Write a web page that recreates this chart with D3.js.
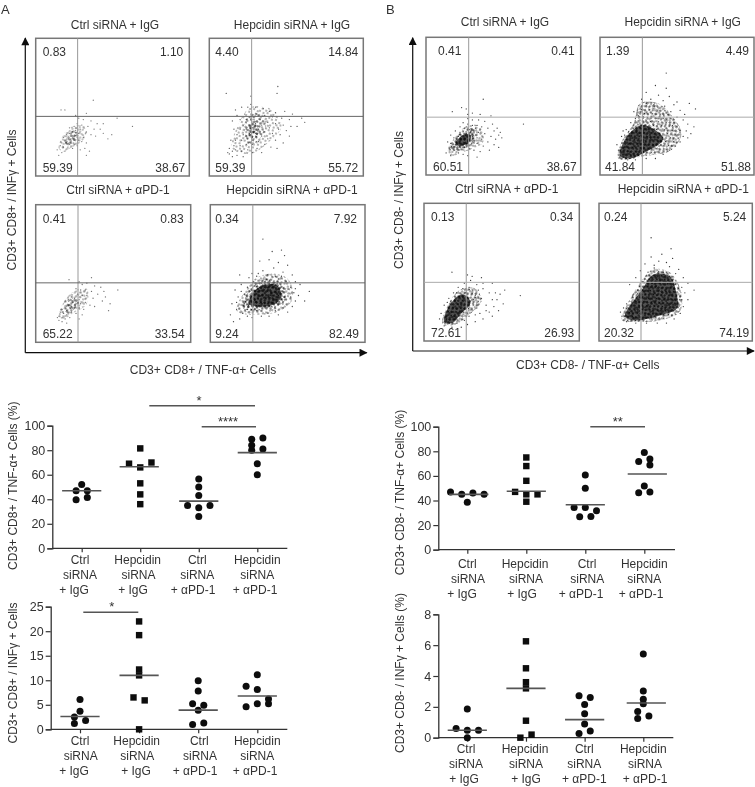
<!DOCTYPE html>
<html>
<head>
<meta charset="utf-8">
<script src="https://cdn.jsdelivr.net/npm/d3@7"></script>
<style>
body { margin: 0; background: #fff; }
svg { display: block; }
text { font-family: "Liberation Sans", Arial, sans-serif; font-size: 12px; fill: #333; }
</style>
</head>
<body>
<svg width="755" height="787"></svg>
<script>
// flow panels: titles and quadrant percentages (UL, UR, LL, LR)
const flowTitles = ["Ctrl siRNA  + IgG", "Hepcidin  siRNA  + IgG", "Ctrl siRNA  + αPD-1", "Hepcidin  siRNA  + αPD-1"];
const quadA = [["0.83","1.10","59.39","38.67"],["4.40","14.84","59.39","55.72"],["0.41","0.83","65.22","33.54"],["0.34","7.92","9.24","82.49"]];
const quadB = [["0.41","0.41","60.51","38.67"],["1.39","4.49","41.84","51.88"],["0.13","0.34","72.61","26.93"],["0.24","5.24","20.32","74.19"]];

// events, [% of panel width, % of panel height from the bottom]
const a1Dots = [[37.5,55],[19,48],[16.5,48],[33,45.5],[63,36],[49.5,30],[53,42],[26,44],[28,42],[31,41],[36,40],[40,38],[44,38],[42,34],[38,34],[34,36],[30,37],[27,38],[25,36],[22,35],[29,34],[33,32],[36,30],[39,29],[44,31],[47,27],[31,28],[28,31],[26,33],[24,32],[22,31],[20,30],[23,29],[25,29],[27,28],[21,27],[19,26],[18,28],[23,26],[25,26],[28,26],[30,25],[33,24],[20,24],[22,23],[25,23],[17,24],[16,22],[18,21],[21,21],[24,20],[32,20],[35,18],[33,15],[15,15],[17,17],[14,19],[19,18],[27,22],[29,19]];
const a2Dots = [[44.5,65],[44,60],[11,60],[27,58],[27,52],[17,48],[21,50],[25,50],[30,50],[35,49],[39,47],[43,46],[49,47],[54,45],[18,44],[23,45],[27,45],[31,45],[36,44],[41,43],[47,42],[52,41],[60,42],[62,39],[15,40],[20,41],[24,41],[29,41],[33,41],[38,39],[43,38],[48,37],[53,36],[57,36],[22,37],[26,37],[30,38],[34,37],[39,35],[45,34],[50,33],[16,34],[20,34],[24,34],[28,35],[32,34],[36,32],[41,31],[46,30],[52,29],[18,30],[22,30],[26,31],[30,31],[34,29],[38,27],[43,26],[48,24],[14,26],[17,26],[21,26],[25,27],[29,27],[32,25],[36,23],[40,21],[44,20],[16,22],[20,22],[24,23],[28,23],[31,20],[13,20],[17,19],[21,18],[25,19],[28,17],[34,17],[13,16],[15,14],[18,15],[22,14],[15,18],[12,17]];
const a3Dots = [[36,47],[21.5,45.5],[53,38],[28,44],[30,42],[33,43],[38,41],[42,40],[44,37],[26,39],[29,38],[32,38],[36,37],[40,35],[45,33],[27,35],[30,34],[33,34],[37,32],[43,30],[48,28],[47,23],[28,31],[25,32],[23,33],[21,31],[19,30],[24,29],[26,28],[29,28],[32,29],[35,27],[38,26],[21,27],[23,26],[25,25],[28,25],[31,24],[19,25],[17,24],[20,23],[23,22],[26,21],[30,20],[16,22],[18,21],[20,20],[15,19],[17,18],[19,17],[22,18],[28,17],[15,16],[17,15],[14,18],[20,14]];
const a4Dots = [[34,75],[46,67],[40,66],[48,63],[38,60],[32,59],[44,58],[50,56],[27,50],[19,49],[34,52],[41,54],[47,51],[53,49],[25,47],[30,48],[55,44],[58,42],[64,37],[61,30],[16,38],[20,42],[22,35],[18,33],[14,28],[17,24],[21,21],[13,20],[15,15],[19,17],[24,19],[27,18],[33,19],[38,19],[44,20],[50,22],[53,26],[55,30],[54,36],[52,40],[28,44],[36,46],[44,46],[49,44],[22,28],[24,24],[30,23],[36,22],[42,23],[47,25],[26,30],[32,28],[38,30],[45,31],[24,40],[42,48],[31,50],[37,49],[46,48],[20,37],[17,29],[55,39],[57,34],[52,33]];
const b1Dots = [[37,55],[63,37],[23,49],[17,46],[30,45],[27,44],[35,44],[42,43],[27,41],[30,40],[34,40],[38,39],[43,37],[46,34],[48,31],[24,38],[27,37],[30,36],[33,36],[36,35],[40,34],[44,32],[47,29],[22,35],[25,34],[28,33],[31,32],[34,31],[38,30],[42,28],[45,26],[49,27],[19,32],[22,31],[26,30],[30,28],[33,27],[36,26],[40,24],[44,22],[47,20],[16,29],[18,27],[21,28],[24,26],[27,25],[30,24],[33,23],[37,21],[41,18],[14,24],[16,23],[19,22],[22,21],[25,20],[28,19],[31,18],[35,17],[15,19],[18,18],[21,16],[24,15],[13,16],[16,14],[27,14],[33,13],[26,48],[29,31],[32,34]];
const b2Dots = [[43,74],[36,65],[43,63],[58,52],[30,60],[38,58],[45,57],[27,55],[33,55],[41,54],[50,53],[62,48],[52,47],[55,44],[26,48],[22,46],[50,42],[54,40],[57,37],[61,35],[47,36],[20,38],[17,33],[16,29],[14,28],[11,22],[12,18],[13,13],[56,32],[54,28],[52,24],[49,21],[45,18],[41,15],[36,12],[30,12],[23,11],[18,11],[57,27],[59,30],[48,51],[42,50],[35,51],[30,52],[25,43],[23,41],[19,30],[15,32],[37,46],[46,46]];
const b3Dots = [[18,50],[28,48],[31,47],[37,46],[44,42],[49,34],[62,33],[52,37],[47,30],[51,27],[48,22],[44,18],[38,16],[33,14],[40,26],[44,30],[42,35],[38,38],[34,41],[30,44],[26,42],[22,39],[19,35],[16,31],[13,26],[11,20],[10,16],[13,11],[18,10],[24,10],[28,12],[36,20],[40,22],[34,24],[37,31],[33,33],[35,37],[29,39],[25,38],[27,35],[45,25],[42,21],[46,35],[38,42],[32,30],[21,35],[15,28],[29,18],[33,19],[26,15]];
const b4Dots = [[34,75],[47,67],[41,63],[48,60],[34,61],[39,58],[44,57],[30,56],[36,53],[46,54],[52,52],[27,51],[32,50],[42,50],[55,46],[24,46],[20,41],[58,42],[62,37],[54,39],[56,35],[54,30],[55,25],[53,20],[49,16],[44,13],[38,13],[31,13],[24,13],[18,14],[15,18],[14,21],[18,27],[22,32],[25,37],[28,43],[50,49],[36,55],[58,30],[16,24]];

// dense parts of the clouds as outlines, d = how many stipple layers they take
const a1Areas = [{ d: 2, p: [[15,20],[20,33],[27,37],[33,35],[31,26],[24,21],[18,18]] }, { d: 3, p: [[19,24],[23,32],[28,31],[26,25],[22,22]] }];
const a2Areas = [{ d: 1, p: [[15,20],[19,38],[27,50],[41,48],[47,36],[39,25],[27,16]] }, { d: 2, p: [[23,27],[24,41],[31,46],[37,39],[33,27],[27,23]] }, { d: 3, p: [[26,28],[27,38],[31,38],[31,29]] }];
const a3Areas = [{ d: 2, p: [[15,19],[19,31],[26,38],[33,39],[33,28],[24,21],[18,17]] }, { d: 3, p: [[19,23],[23,32],[28,30],[25,24],[21,21]] }];
const a4Areas = [{ d: 2, p: [[17,23],[23,38],[30,47],[41,50],[51,45],[53,31],[45,23],[31,20]] }, { d: 3, p: [[21,25],[27,40],[37,46],[47,41],[48,30],[37,24]] }, { d: 4, p: [[25,28],[30,39],[42,42],[46,35],[42,28],[32,26]] }];
const b1Areas = [{ d: 2, p: [[14,18],[20,29],[27,36],[35,35],[37,24],[25,17],[17,14]] }, { d: 3, p: [[15,19],[22,30],[30,34],[32,25],[22,18]] }, { d: 4, p: [[19,23],[24,29],[29,29],[28,24],[22,21]] }];
const b2Areas = [{ d: 3, p: [[12,12],[14,24],[22,38],[26,52],[38,52],[48,41],[53,30],[46,18],[30,14]] }, { d: 4, p: [[13,14],[17,27],[26,36],[34,34],[41,26],[30,17],[20,12]] }];
const b3Areas = [{ d: 3, p: [[12,12],[15,25],[23,37],[33,38],[37,29],[30,20],[20,12]] }, { d: 4, p: [[13,14],[17,27],[25,34],[30,28],[24,20],[18,13]] }];
const b4Areas = [{ d: 3, p: [[15,15],[20,30],[28,44],[35,52],[46,50],[53,38],[53,22],[40,15],[24,14]] }, { d: 4, p: [[17,18],[28,37],[35,48],[46,47],[51,32],[51,24],[38,18],[22,15]] }];

// stipple tiles for the dense parts, [x, y] inside one tile
const stippleA = [[1,2],[5,1],[9,3],[12,1],[3,5],[7,6],[11,5],[1,8],[5,9],[9,8],[13,9]];
const stippleB = [[1,1],[5,3],[8,6],[3,7],[6,10],[1,11]];
const stippleC = [[1,1],[3.5,3.5]];

// dot plots
const groupLines = [["Ctrl","siRNA","+ IgG"],["Hepcidin","siRNA","+ IgG"],["Ctrl","siRNA","+ αPD-1"],["Hepcidin","siRNA","+ αPD-1"]];
const groupShapes = ["circle","square","circle","circle"];

const aTnfValues = [[52,47,47,39.5,41.5],[81.5,69,70,66,53,44,36],[56.5,50,43,35,35,33,26],[89,90,84,80,81,69,60]];
const aTnfSlots = [[0,-1,1,-1,1],[0,-2,2,0,0,0,0],[0,0,0,-2,2,0,0],[-1,1,-1,-1,1,0,0]];
const aTnfMeans = [47,66.5,38.5,78];
const aInfValues = [[6.1,3.7,2.5,1.8,1.2],[22,19.2,12.2,11,6.5,5.9,0],[9.9,7.8,5.2,4.9,3.9,1,1.3],[11.1,8.8,8.1,6.2,4.6,5.2,5.2]];
const aInfSlots = [[0,0,-1,1,-1],[0,0,0,0,-1,1,0],[0,0,-1,1,0,-1,1],[0,-2,0,2,-2,0,2]];
const aInfMeans = [2.6,11,3.9,6.8];
const bTnfValues = [[47,45,46,45,38.5],[75,68,56,47,45,45,39],[60.7,50,34.4,34.4,31.7,26.8,27],[79,73.7,71.8,68.8,51.8,46.3,47]];
const bTnfSlots = [[-3,-1,1,3,0],[0,0,0,-2,0,2,0],[0,0,-2,0,2,-1,1],[0,1,-1,1,0,-1,1]];
const bTnfMeans = [45,47.5,36.6,61.5];
const bInfValues = [[1.86,0.6,0.48,0.48,0],[6.25,4.5,3.6,3.2,1.1,0.2,0],[2.72,2.6,2.16,1.56,0.89,0.43,0.28],[5.43,3.03,2.5,2.2,1.7,1.25,1.4]];
const bInfSlots = [[0,-2,0,2,0],[0,0,0,0,0,1,-1],[-1,1,0,0,0,1,-1],[0,0,0,0,-1,-1,1]];
const bInfMeans = [0.48,3.2,1.17,2.25];

let svg = d3.select("svg");

let defs = svg.append("defs");
defs.append("filter").attr("id", "soft").append("feGaussianBlur").attr("stdDeviation", 0.42);
let arrow = defs.append("marker").attr("id", "arrow").attr("viewBox", "0 0 10 10")
	.attr("refX", 9).attr("refY", 5).attr("markerWidth", 9).attr("markerHeight", 8)
	.attr("markerUnits", "userSpaceOnUse").attr("orient", "auto");
arrow.append("path").attr("d", "M0,0L10,5L0,10Z").attr("fill", "#111");

let addTile = (id, w, h, angle, pts, r) => {
	let tile = defs.append("pattern").attr("id", id).attr("patternUnits", "userSpaceOnUse")
		.attr("width", w).attr("height", h).attr("patternTransform", `rotate(${angle})`);
	tile.selectAll("circle").data(pts).enter().append("circle")
		.attr("cx", d => d[0]).attr("cy", d => d[1]).attr("r", r).attr("fill", "#111");
};
addTile("tileA", 14, 11, 17, stippleA, 0.75);
addTile("tileB", 9, 13, -31, stippleB, 0.75);
addTile("tileC", 5, 6, 53, stippleC, 0.85);

let root = svg.append("g").attr("filter", "url(#soft)");

let flowPanel = (box, title, quad, dots, areas, dotTone) => {
	let g = root.append("g");
	let x = d3.scaleLinear().domain([0, 100]).range([box.x0, box.x1]);
	let y = d3.scaleLinear().domain([0, 100]).range([box.y1, box.y0]);

	let line = d3.line().x(d => x(d[0])).y(d => y(d[1])).curve(d3.curveCatmullRomClosed);
	areas.forEach(a => {
		let fills = ["url(#tileA)", "url(#tileB)", "url(#tileC)", "#111"].slice(0, a.d);
		g.selectAll(null).data(fills).enter().append("path")
			.attr("d", line(a.p)).attr("fill", d => d)
			.attr("fill-opacity", d => d == "#111" ? 0.72 : dotTone);
	});

	g.append("g").selectAll("circle").data(dots).enter().append("circle")
		.attr("cx", d => x(d[0])).attr("cy", d => d3.format(".2f")(y(d[1]))).attr("r", 0.65)
		.attr("fill", "#222").attr("fill-opacity", dotTone);

	g.append("rect").attr("x", box.x0).attr("y", box.y0)
		.attr("width", box.x1 - box.x0).attr("height", box.y1 - box.y0)
		.attr("fill", "none").attr("stroke", "#777").attr("stroke-width", 1.5);
	g.append("line").attr("x1", x(box.v)).attr("x2", x(box.v)).attr("y1", box.y0).attr("y2", box.y1)
		.attr("stroke", "#999").attr("stroke-width", 1);
	g.append("line").attr("x1", box.x0).attr("x2", box.x1).attr("y1", y(box.h)).attr("y2", y(box.h))
		.attr("stroke", box.hc).attr("stroke-width", 1);

	g.append("text").attr("x", box.tx).attr("y", box.ty).attr("text-anchor", "middle").text(title);
	let top = box.y0 + 18, bottom = box.y1 - 4.5;
	g.append("text").attr("x", box.x0 + box.lx).attr("y", top).text(quad[0]);
	g.append("text").attr("x", box.x1 - box.rx).attr("y", top).attr("text-anchor", "end").text(quad[1]);
	g.append("text").attr("x", box.x0 + box.lb).attr("y", bottom).text(quad[2]);
	g.append("text").attr("x", box.x1 - box.rb).attr("y", bottom).attr("text-anchor", "end").text(quad[3]);
};

flowPanel({ x0: 35.7, x1: 189.3, y0: 38.3, y1: 176, v: 27.3, h: 43.3, hc: "#666", tx: 115, ty: 29, lx: 7, rx: 6, lb: 7, rb: 4 }, flowTitles[0], quadA[0], a1Dots, a1Areas, 0.6);
flowPanel({ x0: 209.3, x1: 363.3, y0: 38.3, y1: 176, v: 27.5, h: 43.3, hc: "#666", tx: 292, ty: 29, lx: 6, rx: 5, lb: 6, rb: 5 }, flowTitles[1], quadA[1], a2Dots, a2Areas, 0.75);
flowPanel({ x0: 35.7, x1: 190.7, y0: 204.7, y1: 342.3, v: 27.3, h: 43.2, hc: "#666", tx: 118, ty: 194, lx: 7, rx: 7, lb: 7, rb: 6 }, flowTitles[2], quadA[2], a3Dots, a3Areas, 0.65);
flowPanel({ x0: 210.3, x1: 365, y0: 204.7, y1: 342.3, v: 27.5, h: 43.2, hc: "#666", tx: 292, ty: 194, lx: 5, rx: 8, lb: 5, rb: 6 }, flowTitles[3], quadA[3], a4Dots, a4Areas, 0.85);

flowPanel({ x0: 426, x1: 580.7, y0: 37.3, y1: 175, v: 27.6, h: 42, hc: "#aaa", tx: 505, ty: 26, lx: 12, rx: 6, lb: 7, rb: 4 }, flowTitles[0], quadB[0], b1Dots, b1Areas, 0.85);
flowPanel({ x0: 600, x1: 754, y0: 37.3, y1: 175, v: 27.5, h: 42, hc: "#aaa", tx: 682.7, ty: 26, lx: 6, rx: 5, lb: 5, rb: 3 }, flowTitles[1], quadB[1], b2Dots, b2Areas, 0.9);
flowPanel({ x0: 424, x1: 579.3, y0: 203.3, y1: 341, v: 27.2, h: 42.6, hc: "#aaa", tx: 506.7, ty: 192.7, lx: 7, rx: 6, lb: 7, rb: 5 }, flowTitles[2], quadB[2], b3Dots, b3Areas, 0.9);
flowPanel({ x0: 599, x1: 752.3, y0: 203.3, y1: 341, v: 27.4, h: 42.6, hc: "#aaa", tx: 683.3, ty: 192.7, lx: 5, rx: 6, lb: 5, rb: 3 }, flowTitles[3], quadB[3], b4Dots, b4Areas, 0.9);

let flowAxes = (ox, oy, topY, rightX, xLabel, xx, xy, yLabel, yx, yy) => {
	root.append("path").attr("d", `M${ox},${oy}V${topY}`).attr("stroke", "#111").attr("stroke-width", 1.2).attr("fill", "none").attr("marker-end", "url(#arrow)");
	root.append("path").attr("d", `M${ox},${oy}H${rightX}`).attr("stroke", "#111").attr("stroke-width", 1.2).attr("fill", "none").attr("marker-end", "url(#arrow)");
	root.append("text").attr("x", xx).attr("y", xy).attr("text-anchor", "middle").text(xLabel);
	root.append("text").attr("transform", `translate(${yx},${yy}) rotate(-90)`).attr("text-anchor", "middle").text(yLabel);
};
flowAxes(25.3, 352.7, 38, 366.7, "CD3+ CD8+  / TNF-α+ Cells", 203, 374, "CD3+ CD8+  / INFγ + Cells", 15.5, 200);
flowAxes(412.7, 351, 37.7, 754, "CD3+ CD8-  / TNF-α+ Cells", 587.7, 369.3, "CD3+ CD8-  / INFγ + Cells", 403, 200);

root.append("text").attr("x", 1).attr("y", 14).style("font-size", "13px").text("A");
root.append("text").attr("x", 386).attr("y", 14).style("font-size", "13px").text("B");

let dotPlot = (cfg, values, slots, means) => {
	let g = root.append("g");
	let x = d3.scaleLinear().domain([0, 3]).range(cfg.ticks);
	let y = d3.scaleLinear().domain([0, cfg.max]).range([cfg.y0, cfg.y1]);
	let slotW = 5.6, halfMean = 19.6;

	let ya = g.append("g").attr("transform", `translate(${cfg.ax},0)`)
		.call(d3.axisLeft(y).tickValues(cfg.yTicks).tickSizeOuter(0).tickSize(5));
	let xa = g.append("g").attr("transform", `translate(0,${cfg.y0})`)
		.call(d3.axisBottom(x).tickValues([0, 1, 2, 3]).tickFormat("").tickSizeOuter(0).tickSize(4));
	xa.select(".domain").remove();
	g.append("line").attr("x1", cfg.ax).attr("x2", cfg.right).attr("y1", cfg.y0).attr("y2", cfg.y0).attr("stroke", "#333").attr("stroke-width", 1.3);
	ya.selectAll("line").attr("stroke", "#333").attr("stroke-width", 1.2);
	xa.selectAll("line").attr("stroke", "#333").attr("stroke-width", 1.2);
	ya.select(".domain").attr("stroke", "#333").attr("stroke-width", 1.3);
	ya.selectAll("text").attr("x", -7).style("font-size", "12.5px").attr("font-family", null);

	values.forEach((vals, i) => {
		let pts = vals.map((v, k) => [x(i) + slots[i][k] * slotW, y(v)]);
		if (groupShapes[i] == "square") {
			g.append("g").selectAll("rect").data(pts).enter().append("rect")
				.attr("x", d => d[0] - 3.2).attr("y", d => d[1] - 3.2).attr("width", 6.4).attr("height", 6.4).attr("fill", "#0a0a0a");
		} else {
			g.append("g").selectAll("circle").data(pts).enter().append("circle")
				.attr("cx", d => d[0]).attr("cy", d => d[1]).attr("r", 3.5).attr("fill", "#0a0a0a");
		}
		g.append("line").attr("x1", x(i) + cfg.meanDx[i] - halfMean).attr("x2", x(i) + cfg.meanDx[i] + halfMean)
			.attr("y1", y(means[i])).attr("y2", y(means[i])).attr("stroke", "#555").attr("stroke-width", 1.6);

		groupLines[i].forEach((t, l) => {
			g.append("text").attr("x", cfg.labels[l][i]).attr("y", cfg.label0 + l * 15)
				.attr("text-anchor", "middle").text(t);
		});
	});

	g.append("text").attr("transform", `translate(${cfg.yx},${cfg.yy}) rotate(-90)`).attr("text-anchor", "middle").text(cfg.yLabel);

	cfg.brackets.forEach(b => {
		g.append("line").attr("x1", b.x0).attr("x2", b.x1).attr("y1", b.y).attr("y2", b.y).attr("stroke", "#555").attr("stroke-width", 1.4);
		g.append("text").attr("x", (b.sx)).attr("y", b.y - 1).attr("text-anchor", "middle").style("font-size", "13px").text(b.s);
	});
};

dotPlot({
	ticks: [81.7, 257.3], ax: 52.3, right: 287.3, y0: 548.3, y1: 425.7, max: 100, yTicks: [0, 20, 40, 60, 80, 100],
	meanDx: [0, -1, 0, 0], label0: 564,
	labels: [[80, 137.7, 197.3, 257.3], [80, 138.5, 197.3, 257.3], [74, 133, 193, 255]],
	yLabel: "CD3+ CD8+  / TNF-α+ Cells (%)", yx: 17, yy: 485.7,
	brackets: [{ x0: 149.3, x1: 255, y: 405.7, sx: 199, s: "*" }, { x0: 201.7, x1: 256, y: 426.7, sx: 228, s: "****" }]
}, aTnfValues, aTnfSlots, aTnfMeans);

dotPlot({
	ticks: [80, 257.3], ax: 50.7, right: 287.3, y0: 729.3, y1: 606.7, max: 25, yTicks: [0, 5, 10, 15, 20, 25],
	meanDx: [0, 0, 0, 0], label0: 745,
	labels: [[80, 136.7, 199.3, 257.3], [80.7, 137.3, 200, 257.3], [74, 136, 195, 255]],
	yLabel: "CD3+ CD8+  / INFγ + Cells", yx: 17, yy: 673,
	brackets: [{ x0: 83.3, x1: 138.3, y: 612.3, sx: 111.7, s: "*" }]
}, aInfValues, aInfSlots, aInfMeans);

dotPlot({
	ticks: [467.3, 644.3], ax: 438.3, right: 675, y0: 549.7, y1: 426.7, max: 100, yTicks: [0, 20, 40, 60, 80, 100],
	meanDx: [1.5, 0, 0, 3], label0: 568,
	labels: [[467.3, 525, 587, 644.3], [468, 526, 587.3, 644.3], [462, 522, 581, 641]],
	yLabel: "CD3+ CD8-  / TNF-α+ Cells (%)", yx: 404, yy: 492.5,
	brackets: [{ x0: 590.3, x1: 645, y: 426.7, sx: 617.7, s: "**" }]
}, bTnfValues, bTnfSlots, bTnfMeans);

dotPlot({
	ticks: [467.3, 643.3], ax: 438.3, right: 673.3, y0: 737.7, y1: 614.3, max: 8, yTicks: [0, 2, 4, 6, 8],
	meanDx: [0, 0, 0, 3], label0: 753.3,
	labels: [[466, 525, 584.3, 643.3], [466, 526, 584.3, 645], [464, 526, 584.3, 645]],
	yLabel: "CD3+ CD8-  / INFγ + Cells (%)", yx: 404, yy: 673,
	brackets: []
}, bInfValues, bInfSlots, bInfMeans);
</script>
</body>
</html>
